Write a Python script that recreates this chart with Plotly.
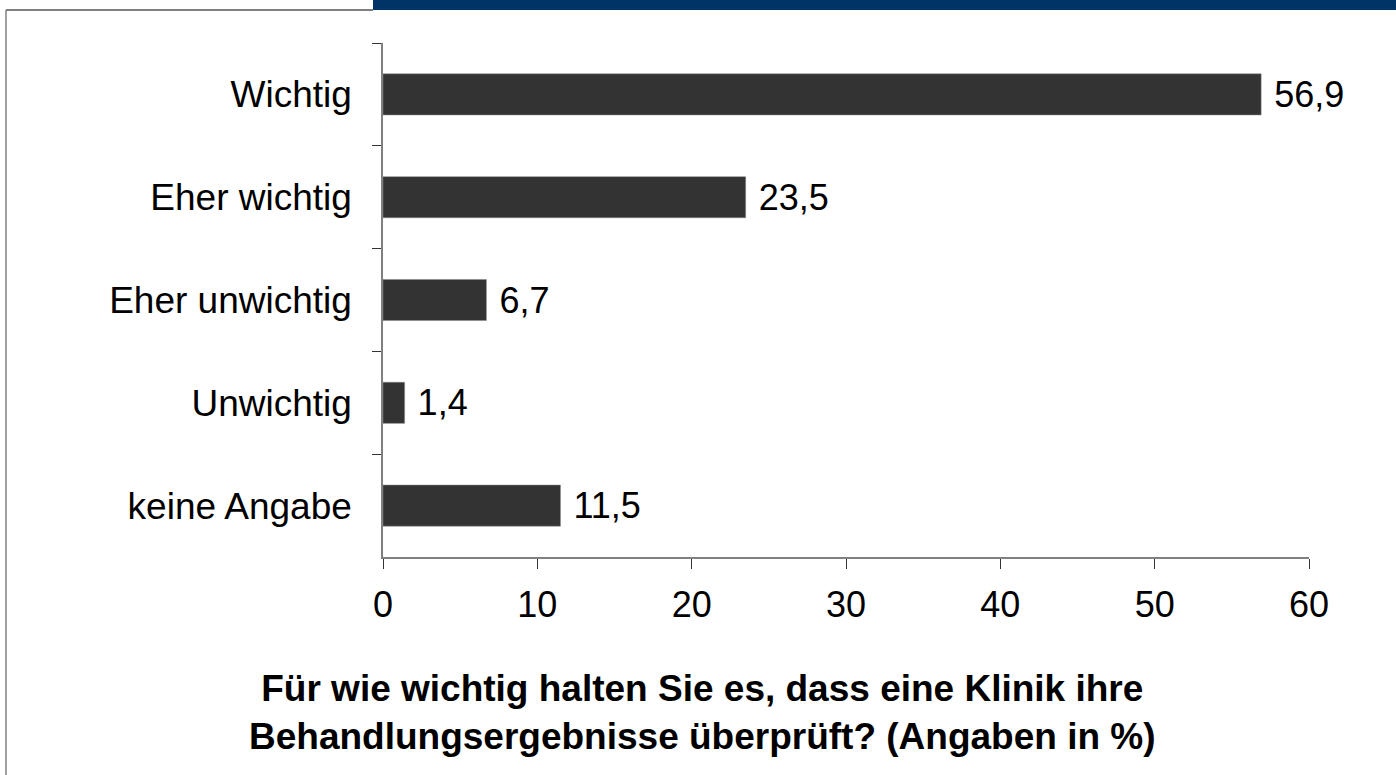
import plotly.graph_objects as go

categories = ["Wichtig", "Eher wichtig", "Eher unwichtig", "Unwichtig", "keine Angabe"]
values = [56.9, 23.5, 6.7, 1.4, 11.5]
x_ticks = [0, 10, 20, 30, 40, 50, 60]
title_text = "Für wie wichtig halten Sie es, dass eine Klinik ihre<br>Behandlungsergebnisse überprüft? (Angaben in %)"

W, H = 1396, 775
L, R, T, B = 383, 87, 43, 218
pw, ph = W - L - R, H - T - B
FONT = "Liberation Sans, Arial, sans-serif"

def px_x(p):
    return (p - L) / pw

def px_y(p):
    return (H - B - p) / ph

fig = go.Figure()
fig.add_trace(go.Bar(
    y=categories, x=values, orientation="h",
    marker=dict(color="#333333", line=dict(color="#888888", width=0.5)),
    width=0.4,
    texttemplate=" %{x:.1f}", textposition="outside",
    textfont=dict(size=36, color="black", family=FONT),
    cliponaxis=False,
))

fig.update_layout(
    width=W, height=H,
    margin=dict(l=L, r=R, t=T, b=B, pad=0),
    paper_bgcolor="white", plot_bgcolor="white",
    separators=",.",
    showlegend=False,
    font=dict(family=FONT, size=36, color="black"),
    xaxis=dict(range=[0, 60], tickvals=x_ticks, showgrid=False, zeroline=False,
               showline=True, linecolor="#808080", linewidth=1.5,
               ticks="outside", ticklen=10, tickcolor="#333333", tickwidth=1,
               tickfont=dict(size=36), ticklabelstandoff=5),
    yaxis=dict(autorange="reversed", showgrid=False, zeroline=False,
               showline=True, linecolor="#808080", linewidth=1.5,
               ticks="outside", ticklen=9, tickcolor="#333333", tickwidth=1,
               tickson="boundaries", tickfont=dict(size=37), ticklabelstandoff=22),
    bargap=0.6,
)

fig.add_annotation(text="<b>" + title_text + "</b>", xref="paper", yref="paper",
                   x=px_x(702), y=px_y(712), xanchor="center", yanchor="middle",
                   showarrow=False, font=dict(size=37, color="black"), align="center")

# decorative frame
fig.add_shape(type="rect", xref="paper", yref="paper",
              x0=px_x(373), x1=px_x(1400), y0=px_y(10), y1=px_y(-5),
              fillcolor="#003366", line=dict(width=0), layer="above")
fig.add_shape(type="line", xref="paper", yref="paper",
              x0=px_x(6), x1=px_x(373), y0=px_y(10), y1=px_y(10),
              line=dict(color="#808080", width=2))
fig.add_shape(type="line", xref="paper", yref="paper",
              x0=px_x(6), x1=px_x(6), y0=px_y(10), y1=px_y(780),
              line=dict(color="#808080", width=1.5))

fig.write_html("out.html", config={"displayModeBar": False},
               post_script="document.body.style.margin='0';document.body.style.overflow='hidden';")
